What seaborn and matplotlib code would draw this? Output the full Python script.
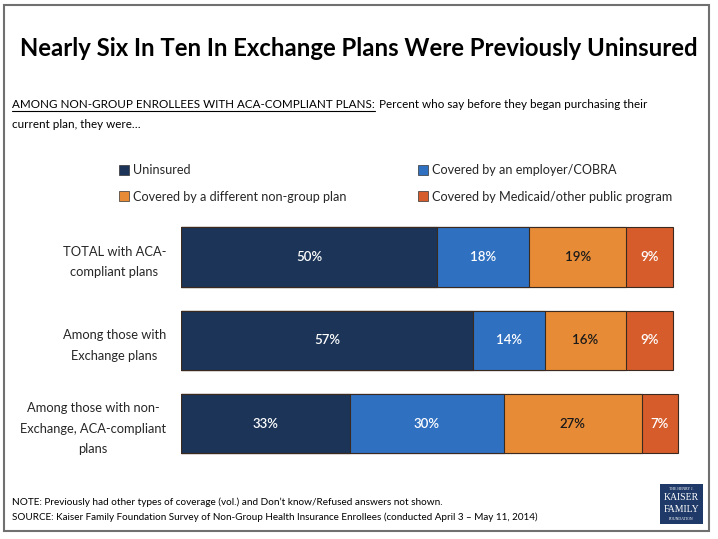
import matplotlib
matplotlib.use("Agg")
import matplotlib.pyplot as plt
import seaborn as sns
import pandas as pd
import numpy as np
from matplotlib.lines import Line2D
from matplotlib.patches import Rectangle

# ---- data ----
categories = ["TOTAL with ACA-\ncompliant plans",
              "Among those with\nExchange plans",
              "Among those with non-\nExchange, ACA-compliant\nplans"]
series = ["Uninsured", "Covered by an employer/COBRA",
          "Covered by a different non-group plan",
          "Covered by Medicaid/other public program"]
uninsured = [50, 57, 33]
employer = [18, 14, 30]
nongroup = [19, 16, 27]
medicaid = [9, 9, 7]
colors = ["#1b3457", "#2f70c0", "#e88b36", "#d65c2c"]
label_colors = ["white", "white", "#1a1a1a", "white"]

values = [uninsured, employer, nongroup, medicaid]

W, H = 718, 539
sns.set_theme(style="white")
plt.rcParams["font.family"] = ["Lato", "DejaVu Sans"]

fig = plt.figure(figsize=(W / 100, H / 100), dpi=100)
fig.patch.set_facecolor("white")

def fx(x):
    return x / W

def fy(y):
    return 1 - y / H

# border frame
fig.add_artist(Rectangle((fx(4), fy(531)), fx(709) - fx(4), fy(5) - fy(531),
                         transform=fig.transFigure, fill=False,
                         edgecolor="#707070", linewidth=1.5))

# axes placement: x 0..100 -> 181..693 px ; rows spaced 83.5 px
ppu = 5.12
ax_left = 181
ax = fig.add_axes([fx(ax_left), fy(465.25), 100 * ppu / W, 250 / H])

df = pd.DataFrame({"category": categories})
cum = np.zeros(len(categories))
cums = []
for v in values:
    cum = cum + np.array(v)
    cums.append(cum.copy())

for i in reversed(range(len(series))):
    d = df.copy()
    d["value"] = cums[i]
    sns.barplot(data=d, x="value", y="category", orient="h", color=colors[i],
                width=0.71, edgecolor="#3a2a20", linewidth=0.8, ax=ax,
                saturation=1)

# value labels
for i in range(len(series)):
    left = cums[i] - np.array(values[i])
    for j, v in enumerate(values[i]):
        ax.text(left[j] + v / 2, j, f"{v}%", ha="center", va="center",
                color=label_colors[i], fontsize=9.5, fontweight="semibold")

ax.set_xlim(0, 100)
ax.set_ylim(2.5, -0.5)
ax.set_xlabel("")
ax.set_ylabel("")
ax.set_xticks([])
ax.tick_params(axis="y", length=0, pad=10.8)
ax.set_yticklabels(categories, fontsize=9.3, ha="right",
                   multialignment="center", linespacing=1.85)
sns.despine(ax=ax, left=True, bottom=True)
ax.set_facecolor("none")

# title
fig.text(fx(20), fy(49), "Nearly Six In Ten In Exchange Plans Were Previously Uninsured",
         fontsize=17.2, fontweight="bold", ha="left", va="center", color="black")

# subtitle with underlined lead
fig.canvas.draw()
renderer = fig.canvas.get_renderer()
sub_fs = 8.4
t1 = fig.text(fx(12), fy(104), "AMONG NON-GROUP ENROLLEES WITH ACA-COMPLIANT PLANS:",
              fontsize=sub_fs, ha="left", va="center", color="black")
bb = t1.get_window_extent(renderer=renderer)
x_end = bb.x1 / W
fig.text(x_end + 4 / W, fy(104), "Percent who say before they began purchasing their",
         fontsize=sub_fs, ha="left", va="center", color="black")
fig.add_artist(Line2D([fx(12), x_end], [fy(110.5), fy(110.5)], transform=fig.transFigure,
                      color="black", linewidth=0.8))
fig.text(fx(12), fy(124), "current plan, they were\u2026", fontsize=sub_fs,
         ha="left", va="center", color="black")

# legend
order = [0, 2, 1, 3]
handles = [Line2D([], [], marker="s", linestyle="none", markersize=6.5,
                  markerfacecolor=colors[k], markeredgecolor="#333333",
                  markeredgewidth=0.5) for k in order]
labels = [series[k] for k in order]
fig.legend(handles, labels, ncol=2, loc="upper left",
           bbox_to_anchor=(fx(120), fy(164)), frameon=False, fontsize=9.1,
           handlelength=0.7, handletextpad=0.35, columnspacing=5.66,
           labelspacing=1.15, borderaxespad=0, borderpad=0)

# footer
fig.text(fx(12), fy(502), "NOTE: Previously had other types of coverage (vol.) and Don\u2019t know/Refused answers not shown.",
         fontsize=7.2, ha="left", va="center", color="black")
fig.text(fx(12), fy(517), "SOURCE: Kaiser Family Foundation Survey of Non-Group Health Insurance Enrollees (conducted April 3 \u2013 May 11, 2014)",
         fontsize=7.1, ha="left", va="center", color="black")

# logo
fig.add_artist(Rectangle((fx(660), fy(524)), fx(703) - fx(660), fy(484) - fy(524),
                         transform=fig.transFigure, facecolor="#1f3a68", edgecolor="none"))
fig.text(fx(681.5), fy(489), "THE HENRY J.", fontsize=2.8, color="white",
         ha="center", va="center", family=["Liberation Serif", "DejaVu Serif"])
fig.text(fx(681.5), fy(498), "KAISER", fontsize=7, color="white",
         ha="center", va="center", family=["Liberation Serif", "DejaVu Serif"])
fig.text(fx(681.5), fy(509), "FAMILY", fontsize=7, color="white",
         ha="center", va="center", family=["Liberation Serif", "DejaVu Serif"])
fig.text(fx(681.5), fy(519), "FOUNDATION", fontsize=2.8, color="white",
         ha="center", va="center", family=["Liberation Serif", "DejaVu Serif"])

fig.savefig("out.png", dpi=100, facecolor="white")
